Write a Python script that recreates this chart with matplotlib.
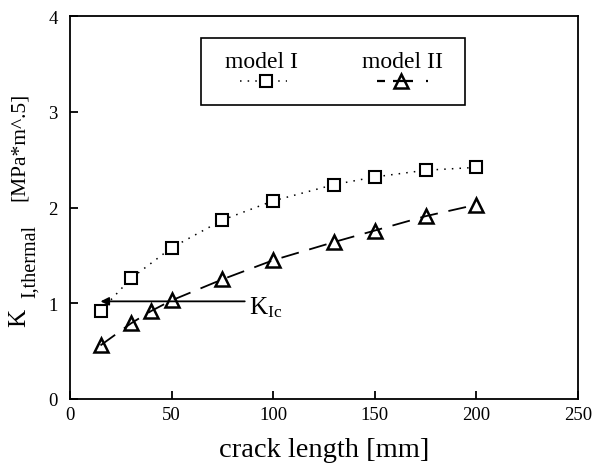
import numpy as np
import matplotlib
matplotlib.use('Agg')
from matplotlib import pyplot as plt
from matplotlib.lines import Line2D
from matplotlib.patches import Rectangle

# model I (squares, dotted)
x1 = [15, 30, 50, 75, 100, 130, 150, 175, 200]
k1 = [0.92, 1.26, 1.58, 1.87, 2.07, 2.24, 2.32, 2.39, 2.42]
# model II (triangles, dashed)
x2 = [15, 30, 40, 50, 75, 100, 130, 150, 175, 200]
k2 = [0.56, 0.79, 0.92, 1.03, 1.25, 1.45, 1.64, 1.76, 1.91, 2.03]
# fracture toughness K_Ic
kic = 1.02
kic_x = [86, 15]

plt.rcParams['font.family'] = ['Liberation Serif', 'DejaVu Serif']
plt.rcParams['mathtext.fontset'] = 'custom'
plt.rcParams['mathtext.rm'] = 'Liberation Serif'
plt.rcParams['mathtext.it'] = 'Liberation Serif'

fig = plt.figure(figsize=(6.1, 4.64), dpi=100)
ax = fig.add_axes([0.1148, 0.138, 0.8327, 0.825])

dot1 = (0, (1, 4))
ax.plot(x1, k1, color='black', linestyle=dot1, lw=1.1,
        marker='s', markersize=8, markerfacecolor='white', markeredgewidth=1.5)
ax.plot(x2, k2, color='black', linestyle=(0, (10, 6)), lw=1.3,
        marker='^', markersize=10, markerfacecolor='none', markeredgewidth=1.8)

ax.annotate('', xy=(kic_x[1], kic), xytext=(kic_x[0], kic),
            arrowprops=dict(arrowstyle='-|>', color='black', lw=1.3,
                            mutation_scale=12, shrinkA=0, shrinkB=0))
ax.text(kic_x[0] + 2, kic - 0.06, r'K$_{\rm Ic}$', fontsize=18, va='center', ha='left')

ax.set_xlim(0, 250)
ax.set_ylim(0, 4)
ax.set_xticks([0, 50, 100, 150, 200, 250])
ax.set_yticks([0, 1, 2, 3, 4])
ax.tick_params(direction='in', length=6, width=1.3, labelsize=13.5)
ax.tick_params(axis='x', pad=5)
ax.tick_params(axis='y', pad=9)
for s in ax.spines.values():
    s.set_linewidth(1.3)

ax.set_xlabel('crack length [mm]', fontsize=20.5, labelpad=10)
# y label built from three pieces: K, subscript, unit
fig.text(0.031, 0.315, 'K', rotation=90, fontsize=18, ha='center', va='center')
fig.text(0.050, 0.4375, 'I,thermal', rotation=90, fontsize=14.5, ha='center', va='center')
fig.text(0.031, 0.683, '[MPa*m^.5]', rotation=90, fontsize=15.5,
         ha='center', va='center')

# legend box with labels above the line samples
ax.add_patch(Rectangle((0.258, 0.768), 0.52, 0.175, transform=ax.transAxes,
                       fill=False, lw=1.2, color='black'))
ax.text(0.377, 0.8825, 'model I', transform=ax.transAxes, fontsize=17,
        ha='center', va='center')
ax.text(0.655, 0.8825, 'model II', transform=ax.transAxes, fontsize=17,
        ha='center', va='center')
ax.add_line(Line2D([0.335, 0.427], [0.83, 0.83], transform=ax.transAxes,
                   color='black', linestyle=dot1, lw=1.1))
ax.add_line(Line2D([0.386], [0.83], transform=ax.transAxes, color='black',
                   marker='s', markersize=8, markerfacecolor='white',
                   markeredgewidth=1.5, linestyle='none'))
for seg in ([0.604, 0.620], [0.636, 0.676], [0.700, 0.705]):
    ax.add_line(Line2D(seg, [0.83, 0.83], transform=ax.transAxes,
                       color='black', lw=1.6, solid_capstyle='butt'))
ax.add_line(Line2D([0.652], [0.83], transform=ax.transAxes, color='black',
                   marker='^', markersize=10, markerfacecolor='none',
                   markeredgewidth=1.8, linestyle='none'))

fig.savefig('out.png', dpi=100)
